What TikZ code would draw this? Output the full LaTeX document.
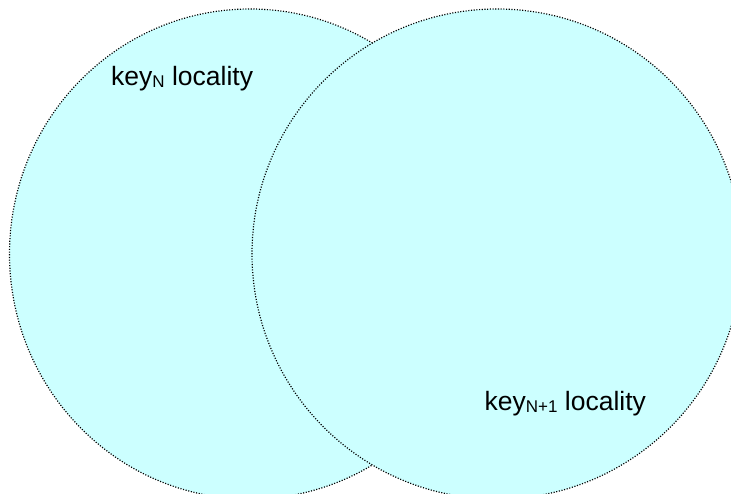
\documentclass[tikz,border=0pt]{standalone}
\usepackage{fontspec}
\setmainfont{Liberation Sans}
\definecolor{zonefill}{HTML}{CCFFFF}
\begin{document}
\begin{tikzpicture}[x=1pt,y=-1pt,
  zone/.style={fill=zonefill,draw=black,line width=1.2pt,dash pattern=on 1.1pt off 1.6pt},
  zonelabel/.style={anchor=base west,inner sep=0pt,font=\fontsize{26.5}{26.5}\selectfont}]
\useasboundingbox (0,0) rectangle (731,494);
\clip (0,0) rectangle (731,494);
% the two overlapping localities; the second one lies on top
\draw[zone] (250,254) ellipse [x radius=240.5, y radius=245];
\draw[zone] (497,254) ellipse [x radius=245, y radius=245];
\newcommand{\subN}[1]{\raisebox{-2pt}{\fontsize{17}{17}\selectfont #1}}
\node[zonelabel] (keyn) at (111,86) {key\subN{N} locality};
\node[zonelabel] (keynext) at (484.5,410) {key\subN{N+1} locality};
\end{tikzpicture}
\end{document}
